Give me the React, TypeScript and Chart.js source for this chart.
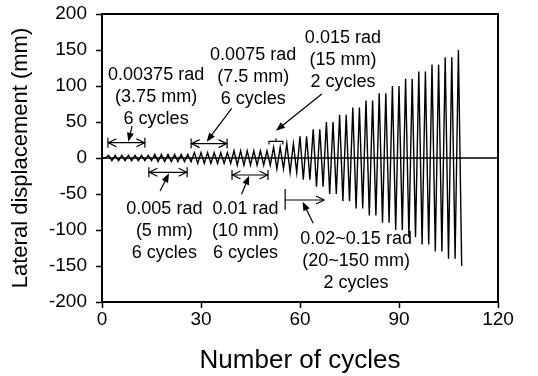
import React, { useEffect, useRef } from "react";
import { Chart, registerables } from "chart.js";

Chart.register(...registerables);

// Loading protocol: amplitude (mm) of each level and the number of cycles drawn
const levelAmplitudes = [3.75, 5, 7.5, 10, 15, 20, 30, 40, 50, 60, 70, 80, 90, 100, 110, 120, 130, 140, 150];
const levelCycles = [7, 6, 6, 6, 2, 2, 2, 2, 2, 2, 2, 2, 2, 2, 2, 2, 2, 2, 1];
const startOffset = 1; // half-cycle index of the first point
const xTickValues = [0, 30, 60, 90, 120];
const yTickValues = [-200, -150, -100, -50, 0, 50, 100, 150, 200];

const FONT = "'Liberation Sans', Arial, Helvetica, sans-serif";

type Pt = { x: number; y: number };

function buildSeries(): Pt[] {
  const pts: Pt[] = [];
  let x = startOffset;
  pts.push({ x: 0, y: 0 });
  pts.push({ x, y: 0 });
  levelAmplitudes.forEach((a, i) => {
    for (let c = 0; c < levelCycles[i]; c++) {
      x += 1;
      pts.push({ x, y: a });
      x += 1;
      pts.push({ x, y: -a });
    }
  });
  return pts;
}

// Annotation layout (data units)
const textBlocks = [
  { x: 16.4, y: 108.3, lines: ["0.00375 rad", "(3.75 mm)", "6 cycles"] },
  { x: 45.8, y: 136.8, lines: ["0.0075 rad", "(7.5 mm)", "6 cycles"] },
  { x: 73.0, y: 160.0, lines: ["0.015 rad", "(15 mm)", "2 cycles"] },
  { x: 18.9, y: -77.8, lines: ["0.005 rad", "(5 mm)", "6 cycles"] },
  { x: 43.5, y: -77.8, lines: ["0.01 rad", "(10 mm)", "6 cycles"] },
  { x: 77.0, y: -119.4, lines: ["0.02~0.15 rad", "(20~150 mm)", "2 cycles"] },
];
const spanArrows = [
  { x1: 1.8, x2: 13.0, y: 21.3 },
  { x1: 14.2, x2: 25.8, y: -19.9 },
  { x1: 27.0, x2: 37.9, y: 20.0 },
  { x1: 39.4, x2: 50.3, y: -23.6 },
];
const bracket = { x1: 50.6, x2: 54.8, y: 23 };
const openArrow = { x1: 55.5, x2: 67.3, y: -58.3, barTop: -43, barBottom: -72 };
const pointers = [
  { x1: 9.1, y1: 44.4, x2: 8.0, y2: 22.6 },
  { x1: 39.3, y1: 69, x2: 31.7, y2: 22.6 },
  { x1: 66.6, y1: 88.9, x2: 52.7, y2: 37.9 },
  { x1: 17.6, y1: -45.8, x2: 20.3, y2: -21.3 },
  { x1: 42.3, y1: -50.4, x2: 44.6, y2: -24.6 },
  { x1: 64.0, y1: -90.7, x2: 60.8, y2: -60.7 },
];

function openHead(ctx: CanvasRenderingContext2D, tx: number, ty: number, ang: number) {
  const L = 8, W = 4;
  const cos = Math.cos(ang), sin = Math.sin(ang);
  ctx.beginPath();
  ctx.moveTo(tx - L * cos + W * sin, ty - L * sin - W * cos);
  ctx.lineTo(tx, ty);
  ctx.lineTo(tx - L * cos - W * sin, ty - L * sin + W * cos);
  ctx.stroke();
}
function filledHead(ctx: CanvasRenderingContext2D, tx: number, ty: number, ang: number) {
  const L = 9, W = 3.5;
  const cos = Math.cos(ang), sin = Math.sin(ang);
  ctx.beginPath();
  ctx.moveTo(tx, ty);
  ctx.lineTo(tx - L * cos + W * sin, ty - L * sin - W * cos);
  ctx.lineTo(tx - L * cos - W * sin, ty - L * sin + W * cos);
  ctx.closePath();
  ctx.fill();
}

const annotationPlugin = {
  id: "annotations",
  afterDraw(chart: any) {
    const ctx: CanvasRenderingContext2D = chart.ctx;
    const xs = chart.scales.x, ys = chart.scales.y;
    const X = (v: number) => xs.getPixelForValue(v);
    const Y = (v: number) => ys.getPixelForValue(v);
    const area = chart.chartArea;
    ctx.save();
    ctx.strokeStyle = "#000";
    ctx.fillStyle = "#000";
    // box top/right
    ctx.lineWidth = 2;
    ctx.beginPath();
    ctx.moveTo(area.left, area.top);
    ctx.lineTo(area.right, area.top);
    ctx.lineTo(area.right, area.bottom);
    ctx.stroke();
    // text
    ctx.font = `18px ${FONT}`;
    ctx.textAlign = "center";
    ctx.textBaseline = "alphabetic";
    textBlocks.forEach((b) => {
      b.lines.forEach((t, i) => ctx.fillText(t, X(b.x), Y(b.y) + i * 22));
    });
    ctx.lineWidth = 1.2;
    // span arrows |<->|
    spanArrows.forEach((s) => {
      const a = X(s.x1), b = X(s.x2), y = Y(s.y);
      ctx.beginPath();
      ctx.moveTo(a, y - 5); ctx.lineTo(a, y + 5);
      ctx.moveTo(b, y - 5); ctx.lineTo(b, y + 5);
      ctx.moveTo(a, y); ctx.lineTo(b, y);
      ctx.stroke();
      openHead(ctx, a + 0.5, y, Math.PI);
      openHead(ctx, b - 0.5, y, 0);
    });
    // bracket
    {
      const a = X(bracket.x1), b = X(bracket.x2), y = Y(bracket.y), m = (a + b) / 2;
      ctx.beginPath();
      ctx.moveTo(a, y + 3); ctx.lineTo(a, y); ctx.lineTo(b, y); ctx.lineTo(b, y + 3);
      ctx.moveTo(m, y); ctx.lineTo(m, y - 3);
      ctx.stroke();
    }
    // open arrow |->
    {
      const a = X(openArrow.x1), b = X(openArrow.x2), y = Y(openArrow.y);
      ctx.beginPath();
      ctx.moveTo(a, Y(openArrow.barTop)); ctx.lineTo(a, Y(openArrow.barBottom));
      ctx.moveTo(a, y); ctx.lineTo(b, y);
      ctx.stroke();
      openHead(ctx, b, y, 0);
    }
    // pointers
    pointers.forEach((p) => {
      const x1 = X(p.x1), y1 = Y(p.y1), x2 = X(p.x2), y2 = Y(p.y2);
      const ang = Math.atan2(y2 - y1, x2 - x1);
      ctx.beginPath();
      ctx.moveTo(x1, y1);
      ctx.lineTo(x2 - 6 * Math.cos(ang), y2 - 6 * Math.sin(ang));
      ctx.stroke();
      filledHead(ctx, x2, y2, ang);
    });
    ctx.restore();
  },
};

const zeroLinePlugin = {
  id: "zeroLine",
  beforeDatasetsDraw(chart: any) {
    const ctx: CanvasRenderingContext2D = chart.ctx;
    const y = chart.scales.y.getPixelForValue(0);
    const area = chart.chartArea;
    ctx.save();
    ctx.strokeStyle = "#000";
    ctx.lineWidth = 1.5;
    ctx.beginPath();
    ctx.moveTo(area.left, y);
    ctx.lineTo(area.right, y);
    ctx.stroke();
    ctx.restore();
  },
};

export default function App() {
  const ref = useRef<HTMLCanvasElement | null>(null);
  useEffect(() => {
    if (!ref.current) return;
    const chart = new Chart(ref.current, {
      type: "line",
      data: {
        datasets: [
          {
            data: buildSeries(),
            borderColor: "#000",
            borderWidth: 1.4,
            pointRadius: 0,
            tension: 0,
            fill: false,
          },
        ],
      },
      options: {
        responsive: false,
        animation: false,
        parsing: true,
        layout: { padding: { left: 0, right: 40, top: 14, bottom: 0 } },
        plugins: { legend: { display: false }, tooltip: { enabled: false } },
        scales: {
          x: {
            type: "linear",
            min: 0,
            max: 120,
            afterBuildTicks: (s: any) => {
              s.ticks = xTickValues.map((v) => ({ value: v }));
            },
            afterFit: (s: any) => {
              s.height = 74;
              s.paddingLeft = 0;
              s.paddingRight = 0;
            },
            ticks: { color: "#000", font: { family: FONT, size: 19 }, padding: 0, maxRotation: 0 },
            grid: { drawOnChartArea: false, tickLength: 6, tickColor: "#000", tickWidth: 1.5 },
            border: { color: "#000", width: 2 },
            title: {
              display: true,
              text: "Number of cycles",
              color: "#000",
              font: { family: FONT, size: 26 },
              padding: { top: 0, bottom: 0 },
            },
          },
          y: {
            type: "linear",
            min: -200,
            max: 200,
            afterBuildTicks: (s: any) => {
              s.ticks = yTickValues.map((v) => ({ value: v }));
            },
            afterFit: (s: any) => {
              s.width = 102;
              s.paddingTop = 0;
              s.paddingBottom = 0;
            },
            ticks: { color: "#000", font: { family: FONT, size: 19 }, padding: 9 },
            grid: { drawOnChartArea: false, tickLength: 6, tickColor: "#000", tickWidth: 1.5 },
            border: { color: "#000", width: 2 },
            title: {
              display: true,
              text: "Lateral displacement (mm)",
              color: "#000",
              font: { family: FONT, size: 22 },
              padding: { top: 8, bottom: 0 },
            },
          },
        },
      },
      plugins: [zeroLinePlugin, annotationPlugin],
    } as any);
    return () => chart.destroy();
  }, []);
  return (
    <div style={{ position: "absolute", left: 0, top: 0, width: 538, height: 376, background: "#fff" }}>
      <canvas ref={ref} width={538} height={376} style={{ width: 538, height: 376, display: "block" }} />
    </div>
  );
}
